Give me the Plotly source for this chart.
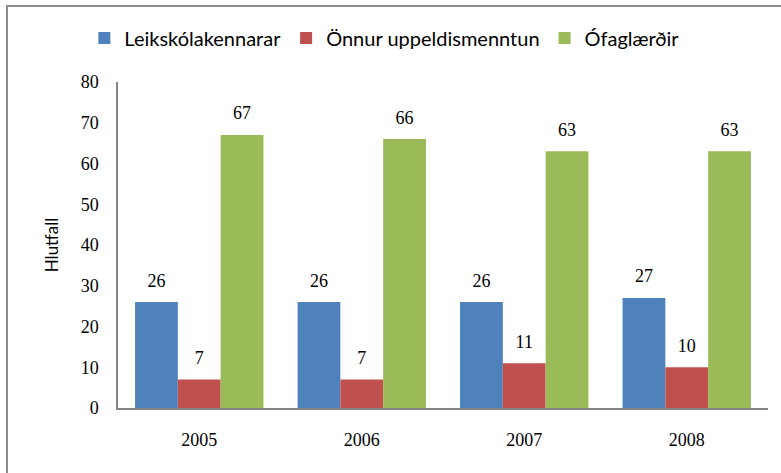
import plotly.graph_objects as go

years = ["2005", "2006", "2007", "2008"]
leikskolakennarar = [26, 26, 26, 27]
onnur = [7, 7, 11, 10]
ofaglaerdir = [67, 66, 63, 63]
series_names = ["Leikskólakennarar", "Önnur uppeldismenntun", "Ófaglærðir"]
colors = ["#4F81BD", "#C0504D", "#9BBB59"]

serif = "Liberation Serif"
sans = "Lato"

fig = go.Figure()
all_vals = [leikskolakennarar, onnur, ofaglaerdir]
for name, vals, col in zip(series_names, all_vals, colors):
    fig.add_trace(go.Bar(
        x=years, y=vals, name=name,
        marker=dict(color=col, line=dict(width=0)),
        hoverinfo="x+y+name",
    ))
# data labels: grouped text points aligned with the bars
for name, vals in zip(series_names, all_vals):
    fig.add_trace(go.Scatter(
        x=years, y=vals, name=name, mode="markers+text",
        marker=dict(size=16, color="rgba(0,0,0,0)"),
        text=[str(v) for v in vals], textposition="top center",
        textfont=dict(family=serif, size=18, color="#000000"),
        showlegend=False, hoverinfo="skip", cliponaxis=False,
    ))

fig.update_layout(
    width=781, height=473,
    margin=dict(l=118, r=13, t=82, b=65, autoexpand=False),
    paper_bgcolor="white", plot_bgcolor="white",
    barmode="group", bargap=0.21, bargroupgap=0,
    scattermode="group", scattergap=0.21,
    showlegend=True,
    legend=dict(orientation="h", xref="container", yref="container",
                x=0.108, xanchor="left", y=1 - 38 / 473, yanchor="middle",
                font=dict(family=sans, size=20, color="#000"),
                itemwidth=30, tracegroupgap=0, bgcolor="rgba(0,0,0,0)"),
    xaxis=dict(showline=True, linecolor="#868686", linewidth=2, ticks="", automargin=False,
               ticklabelstandoff=14,
               tickfont=dict(family=serif, size=18, color="#000"), showgrid=False),
    yaxis=dict(range=[0, 80], dtick=10, showline=True, linecolor="#868686", linewidth=1.5,
               ticks="", showgrid=False, zeroline=False, automargin=False,
               ticklabelstandoff=14,
               tickfont=dict(family=serif, size=18, color="#000"),
               title=dict(text="Hlutfall", font=dict(family=sans, size=17, color="#000"), standoff=18)),
)

frame_js = (
    "document.documentElement.style.overflow='hidden';"
    "document.body.style.margin='0px';document.body.style.overflow='hidden';"
    "var fr=document.createElement('div');"
    "fr.style.cssText='position:absolute;left:6px;top:5px;width:790px;height:480px;"
    "border-top:2px solid #8c8c8c;border-left:2px solid #8c8c8c;pointer-events:none;box-sizing:border-box;';"
    "document.body.appendChild(fr);"
)
fig.write_html("out.html", config={"displayModeBar": False}, post_script=frame_js)
